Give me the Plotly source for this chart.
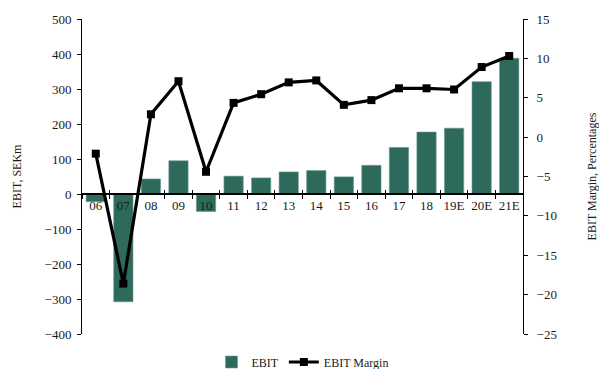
import plotly.graph_objects as go

categories = ["06", "07", "08", "09", "10", "11", "12", "13", "14", "15", "16", "17", "18", "19E", "20E", "21E"]
ebit = [-22, -308, 43, 95, -50, 51, 46, 63, 67, 49, 82, 133, 177, 188, 321, 388]
ebit_margin = [-2.1, -18.6, 2.9, 7.1, -4.4, 4.35, 5.45, 6.95, 7.2, 4.1, 4.7, 6.2, 6.2, 6.05, 8.9, 10.3]

y_range = [-400, 500]
y2_range = [-25, 15]
zero_pos = (0 - y_range[0]) / (y_range[1] - y_range[0])

font_family = "Times New Roman, Liberation Serif, Times, serif"
bar_color = "#2d6a5c"
text_color = "#1a1a1a"

fig = go.Figure()
fig.add_trace(go.Bar(
    x=categories, y=ebit, name="EBIT",
    marker=dict(color=bar_color, line=dict(color="#6f9a90", width=0.6)),
    xaxis="x", yaxis="y",
))
fig.add_trace(go.Scatter(
    x=categories, y=ebit_margin, name="EBIT Margin",
    mode="lines+markers",
    line=dict(color="black", width=3.2),
    marker=dict(symbol="square", size=8, color="black"),
    xaxis="x2", yaxis="y2",
))

tickfont = dict(family=font_family, size=13, color=text_color)
titlefont = dict(family=font_family, size=12, color=text_color)

fig.update_layout(
    width=599, height=369,
    margin=dict(l=82, r=76, t=19, b=35, autoexpand=False),
    paper_bgcolor="white", plot_bgcolor="white",
    font=dict(family=font_family, size=12, color=text_color),
    bargap=0.3,
    showlegend=True,
    legend=dict(orientation="h", x=0.5, xanchor="center",
                yref="container", y=1 - 362 / 369, yanchor="middle",
                font=dict(family=font_family, size=12, color=text_color),
                itemwidth=30, tracegroupgap=0),
    xaxis=dict(
        type="category", categoryarray=categories, range=[-0.5, len(categories) - 0.5],
        anchor="free", position=zero_pos,
        showline=True, linecolor="black", linewidth=1.5,
        ticks="outside", tickson="boundaries", ticklen=4, tickcolor="black", tickwidth=1,
        showgrid=False, zeroline=False, tickfont=tickfont, tickangle=0,
    ),
    xaxis2=dict(
        type="category", categoryarray=categories, range=[-0.5, len(categories) - 0.5],
        overlaying="x", anchor="free", position=zero_pos,
        showline=False, ticks="inside", tickson="boundaries", ticklen=4,
        tickcolor="black", tickwidth=1, showticklabels=False, showgrid=False, zeroline=False,
    ),
    yaxis=dict(
        range=y_range, dtick=100, domain=[0, 1],
        showline=True, linecolor="black", linewidth=1,
        ticks="outside", ticklen=4, tickcolor="black",
        showgrid=False, zeroline=False, tickfont=tickfont, ticklabelstandoff=3,
        title=dict(text="EBIT, SEKm", font=titlefont, standoff=20),
    ),
    yaxis2=dict(
        range=y2_range, dtick=5, overlaying="y", side="right", anchor="x",
        showline=True, linecolor="black", linewidth=1,
        ticks="outside", ticklen=4, tickcolor="black",
        showgrid=False, zeroline=False, tickfont=tickfont, ticklabelstandoff=6,
        title=dict(text="EBIT Margin, Percentages", font=titlefont, standoff=41),
    ),
    yaxis3=dict(
        range=y_range, dtick=100, overlaying="y", side="left", anchor="x",
        showline=False, ticks="inside", ticklen=4, tickcolor="black",
        showticklabels=False, showgrid=False, zeroline=False,
    ),
    yaxis4=dict(
        range=y2_range, dtick=5, overlaying="y", side="right", anchor="x",
        showline=False, ticks="inside", ticklen=4, tickcolor="black",
        showticklabels=False, showgrid=False, zeroline=False,
    ),
)

fig.write_html("out.html")
